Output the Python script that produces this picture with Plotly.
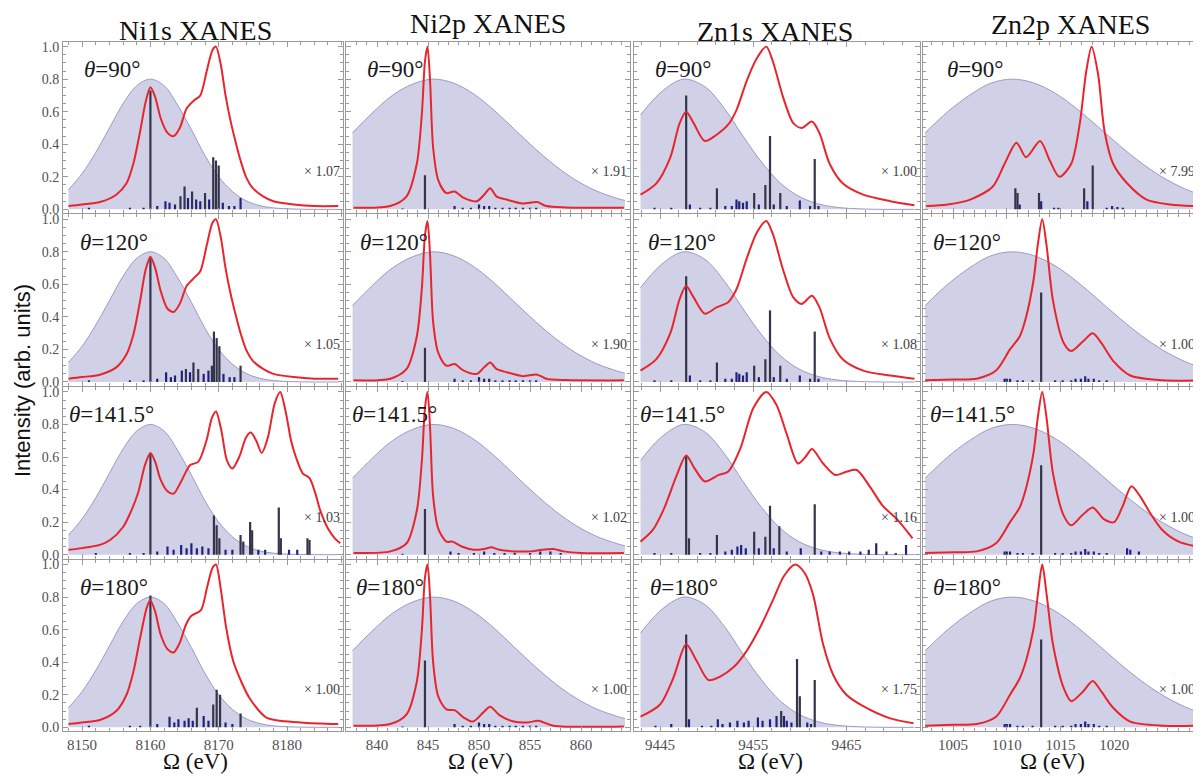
import plotly.graph_objects as go

# ---------------- data ----------------
column_titles = ["Ni1s XANES", "Ni2p XANES", "Zn1s XANES", "Zn2p XANES"]
angle_labels = ["90°", "120°", "141.5°", "180°"]
scale_factors = [["1.07", "1.91", "1.00", "7.99"],
                 ["1.05", "1.90", "1.08", "1.00"],
                 ["1.03", "1.02", "1.16", "1.00"],
                 ["1.00", "1.00", "1.75", "1.00"]]
x_ticks = [[8150, 8160, 8170, 8180], [840, 845, 850, 855, 860],
           [9445, 9455, 9465], [1005, 1010, 1015, 1020]]
y_ticks = [0.0, 0.2, 0.4, 0.6, 0.8, 1.0]

# pulse (Gaussian envelope) of each edge: (energy eV, intensity)
ni1s_gauss = [(8148, 0.12), (8150, 0.22), (8152, 0.35), (8154, 0.50), (8156, 0.65), (8158, 0.76),
              (8160, 0.80), (8162, 0.76), (8164, 0.64), (8166, 0.49), (8168, 0.33), (8170, 0.20),
              (8172, 0.11), (8174, 0.053), (8176, 0.023), (8178, 0.009), (8181, 0.002), (8184, 0.0),
              (8187.5, 0.0)]
ni2p_gauss = [(837.6, 0.47), (839.5, 0.59), (841.5, 0.70), (843.5, 0.77), (845.5, 0.80), (847.5, 0.776),
              (849.5, 0.708), (851.5, 0.608), (853.5, 0.49), (855.5, 0.373), (857.5, 0.267),
              (859.5, 0.179), (861.5, 0.113), (863.5, 0.068), (864.3, 0.054)]
zn1s_gauss = [(9442.9, 0.58), (9444.9, 0.71), (9446.9, 0.79), (9447.9, 0.80), (9449.9, 0.75),
              (9451.9, 0.62), (9453.9, 0.45), (9455.9, 0.29), (9457.9, 0.162), (9459.9, 0.08),
              (9461.9, 0.035), (9463.9, 0.013), (9466.9, 0.002), (9472.3, 0.0)]
zn2p_gauss = [(1002.4, 0.47), (1004.5, 0.60), (1006.5, 0.70), (1008.5, 0.775), (1010.5, 0.80),
              (1012.5, 0.777), (1014.5, 0.714), (1016.5, 0.619), (1018.5, 0.507), (1020.5, 0.392),
              (1022.5, 0.286), (1024.5, 0.197), (1026.5, 0.128), (1027.7, 0.097)]

# ---- Ni1s spectra (red) and sticks ----
ni1s_90_red = [(8148, 0.02), (8150, 0.03), (8152.6, 0.045), (8155, 0.09), (8156.5, 0.16), (8157.5, 0.28),
               (8158.5, 0.48), (8159.3, 0.66), (8160, 0.75), (8160.7, 0.69), (8161.5, 0.56), (8162.5, 0.47),
               (8163.4, 0.45), (8164.3, 0.50), (8165.3, 0.62), (8166.4, 0.67), (8167.3, 0.70), (8168.3, 0.86),
               (8169.1, 0.98), (8169.6, 1.0), (8170.3, 0.89), (8171, 0.70), (8171.7, 0.55), (8172.5, 0.41),
               (8173.2, 0.30), (8174, 0.2), (8175, 0.13), (8176.5, 0.08), (8178, 0.05), (8181, 0.03),
               (8184, 0.02), (8187.5, 0.02)]
ni1s_90_sticks = [(8151, 0.01), (8157, 0.01), (8159, 0.01), (8160, 0.73), (8161, 0.02), (8162.2, 0.05),
                  (8162.8, 0.04), (8163.6, 0.03), (8164.4, 0.08), (8165, 0.14), (8165.5, 0.07), (8166.1, 0.11),
                  (8166.7, 0.06), (8167.3, 0.05), (8168, 0.10), (8168.6, 0.06), (8169.2, 0.32), (8169.6, 0.30),
                  (8170, 0.27), (8170.6, 0.04), (8171.5, 0.02), (8172.3, 0.02), (8173.2, 0.07)]
ni1s_120_red = [(8148, 0.02), (8150, 0.03), (8152.6, 0.045), (8155, 0.09), (8156.5, 0.17), (8157.5, 0.29),
                (8158.5, 0.50), (8159.3, 0.69), (8160, 0.77), (8160.7, 0.70), (8161.5, 0.56), (8162.5, 0.45),
                (8163.4, 0.43), (8164.3, 0.48), (8165.3, 0.59), (8166.4, 0.64), (8167.3, 0.68), (8168.3, 0.85),
                (8169.1, 0.98), (8169.6, 1.0), (8170.3, 0.89), (8171, 0.70), (8171.7, 0.55), (8172.5, 0.41),
                (8173.2, 0.30), (8174, 0.2), (8175, 0.13), (8176.5, 0.08), (8178, 0.05), (8181, 0.03),
                (8184, 0.02), (8187.5, 0.02)]
ni1s_120_sticks = [(8151, 0.01), (8157, 0.01), (8159, 0.01), (8160, 0.76), (8161, 0.02), (8162.3, 0.06),
                   (8163, 0.03), (8163.6, 0.04), (8164.6, 0.07), (8165.2, 0.08), (8165.8, 0.06), (8166.3, 0.12),
                   (8167, 0.08), (8167.8, 0.05), (8168.5, 0.07), (8169, 0.10), (8169.3, 0.31), (8169.7, 0.27),
                   (8170.1, 0.22), (8170.7, 0.05), (8171.6, 0.03), (8172.3, 0.03), (8173.2, 0.10)]
ni1s_1415_red = [(8148, 0.03), (8150, 0.04), (8152.6, 0.06), (8154.1, 0.09), (8156, 0.17), (8157.2, 0.27),
                 (8158.2, 0.38), (8159.2, 0.55), (8160, 0.625), (8160.7, 0.57), (8161.5, 0.46), (8162.5, 0.39),
                 (8163.4, 0.375), (8164.5, 0.45), (8165.8, 0.55), (8167, 0.57), (8168.2, 0.70), (8169, 0.84),
                 (8169.6, 0.88), (8170.4, 0.76), (8171.2, 0.58), (8172, 0.53), (8173, 0.60), (8174, 0.72),
                 (8174.7, 0.75), (8175.5, 0.70), (8176.3, 0.625), (8177.2, 0.72), (8178.2, 0.93), (8179, 1.0),
                 (8179.8, 0.88), (8180.6, 0.70), (8181.3, 0.60), (8182.3, 0.50), (8183.3, 0.47), (8184.2, 0.37),
                 (8184.8, 0.28), (8186, 0.16), (8187, 0.10), (8187.8, 0.07)]
ni1s_1415_sticks = [(8152, 0.01), (8157, 0.01), (8159, 0.01), (8160, 0.62), (8161, 0.02), (8162.5, 0.05),
                    (8163.4, 0.03), (8164.5, 0.06), (8165.3, 0.04), (8166, 0.07), (8166.8, 0.04), (8167.6, 0.05),
                    (8168.5, 0.04), (8169.3, 0.24), (8169.7, 0.18), (8170.1, 0.10), (8171, 0.03), (8172, 0.03),
                    (8173.2, 0.12), (8173.6, 0.08), (8174.6, 0.20), (8174.9, 0.15), (8175.8, 0.03), (8176.8, 0.03),
                    (8178.8, 0.29), (8179.1, 0.10), (8180.3, 0.03), (8181.5, 0.03), (8183, 0.10), (8183.3, 0.09)]
ni1s_180_red = [(8148, 0.02), (8150, 0.03), (8152.6, 0.045), (8155, 0.10), (8156.5, 0.20), (8157.5, 0.34),
                (8158.5, 0.55), (8159.5, 0.74), (8160, 0.78), (8160.7, 0.71), (8161.5, 0.57), (8162.5, 0.48),
                (8163.4, 0.46), (8164.3, 0.52), (8165.2, 0.63), (8166, 0.685), (8167.4, 0.72), (8168.3, 0.86),
                (8169.1, 0.98), (8169.6, 1.0), (8170.3, 0.85), (8171.1, 0.61), (8172.1, 0.41), (8173.1, 0.30),
                (8174.5, 0.18), (8177, 0.06), (8182, 0.03), (8187.5, 0.02)]
ni1s_180_sticks = [(8151, 0.01), (8157, 0.01), (8158.5, 0.01), (8160, 0.81), (8161, 0.02), (8162.8, 0.065),
                   (8163.5, 0.03), (8164.1, 0.05), (8165, 0.04), (8165.6, 0.055), (8166.2, 0.04), (8166.8, 0.12),
                   (8167.8, 0.07), (8168.5, 0.04), (8169.2, 0.14), (8169.7, 0.23), (8170.2, 0.20), (8171, 0.03),
                   (8172, 0.02), (8173.2, 0.085)]

# ---- Ni2p ----
ni2p_90_red = [(837.7, 0.01), (841.3, 0.02), (842.9, 0.08), (843.9, 0.28), (844.4, 0.59), (844.7, 0.91),
               (844.95, 1.0), (845.2, 0.79), (845.5, 0.38), (846.0, 0.18), (846.8, 0.10), (847.6, 0.11),
               (848.5, 0.07), (849.8, 0.05), (850.5, 0.09), (851.1, 0.13), (851.7, 0.08), (852.7, 0.06),
               (854.3, 0.036), (855.7, 0.045), (856.6, 0.02), (858.5, 0.012), (864.2, 0.01)]
ni2p_90_sticks = [(842.5, 0.005), (844.7, 0.21), (847.6, 0.02), (848.4, 0.01), (849.2, 0.01), (850.0, 0.03),
                  (850.5, 0.02), (851.0, 0.02), (851.6, 0.01), (852.3, 0.01), (853.0, 0.01), (853.6, 0.01),
                  (854.3, 0.01), (855.0, 0.01), (855.6, 0.01)]
ni2p_120_red = [(837.7, 0.01), (841.3, 0.02), (842.9, 0.08), (843.9, 0.28), (844.4, 0.58), (844.7, 0.90),
                (844.95, 0.99), (845.2, 0.78), (845.5, 0.37), (846.0, 0.18), (846.8, 0.10), (847.6, 0.11),
                (848.5, 0.07), (849.8, 0.05), (850.5, 0.09), (851.1, 0.12), (851.7, 0.08), (852.7, 0.06),
                (854.3, 0.036), (855.7, 0.045), (856.6, 0.02), (858.5, 0.012), (864.2, 0.01)]
ni2p_120_sticks = [(842.5, 0.005), (844.7, 0.21), (847.6, 0.02), (848.4, 0.01), (849.2, 0.01), (850.0, 0.03),
                   (850.5, 0.02), (851.0, 0.02), (851.6, 0.01), (852.3, 0.01), (853.0, 0.01), (853.6, 0.01),
                   (854.3, 0.01), (855.0, 0.01), (855.6, 0.01)]
ni2p_1415_red = [(837.7, 0.01), (841.3, 0.02), (842.9, 0.07), (843.9, 0.27), (844.4, 0.58), (844.7, 0.90),
                 (844.95, 1.0), (845.2, 0.78), (845.5, 0.36), (846.0, 0.16), (846.8, 0.08), (847.4, 0.08),
                 (848.3, 0.05), (849.5, 0.03), (850.5, 0.035), (851.2, 0.045), (852, 0.03), (853.5, 0.02),
                 (855, 0.02), (856.2, 0.03), (857.3, 0.035), (858.3, 0.02), (860, 0.01), (864.2, 0.01)]
ni2p_1415_sticks = [(842.5, 0.005), (844.7, 0.28), (847.2, 0.02), (848.0, 0.01), (849.5, 0.01), (850.5, 0.02),
                    (851.5, 0.01), (852.5, 0.01), (853.5, 0.01), (855.0, 0.01), (856.0, 0.02), (857.0, 0.02),
                    (858.0, 0.01)]
ni2p_180_red = [(837.7, 0.01), (841.3, 0.02), (842.9, 0.08), (843.9, 0.28), (844.4, 0.60), (844.7, 0.92),
                (844.95, 1.0), (845.2, 0.80), (845.5, 0.40), (846.0, 0.19), (846.8, 0.11), (847.6, 0.105),
                (848.5, 0.06), (849.4, 0.035), (850.4, 0.09), (851.1, 0.126), (852, 0.075), (853.4, 0.035),
                (854.8, 0.03), (855.8, 0.04), (857.3, 0.01), (864.2, 0.005)]
ni2p_180_sticks = [(842.5, 0.005), (844.7, 0.41), (847.6, 0.02), (848.4, 0.01), (849.2, 0.01), (850.0, 0.03),
                   (850.5, 0.02), (851.0, 0.02), (851.6, 0.01), (852.3, 0.01), (853.0, 0.01), (853.6, 0.01),
                   (854.3, 0.01), (855.0, 0.01), (855.6, 0.01)]

# ---- Zn1s ----
zn1s_90_red = [(9442.9, 0.09), (9444.6, 0.16), (9446.1, 0.32), (9447.1, 0.53), (9447.8, 0.60), (9448.6, 0.53),
               (9449.8, 0.42), (9451.1, 0.46), (9452.3, 0.52), (9453.2, 0.61), (9454.3, 0.79), (9455.4, 0.93),
               (9456.4, 1.0), (9457.1, 0.91), (9458.2, 0.69), (9459.3, 0.53), (9460.2, 0.50), (9461.3, 0.54),
               (9462.1, 0.47), (9463.2, 0.28), (9464.6, 0.16), (9466.8, 0.09), (9469.7, 0.05), (9472.3, 0.025)]
zn1s_90_sticks = [(9444.4, 0.01), (9446.2, 0.01), (9447.8, 0.70), (9448.2, 0.03), (9449.3, 0.01), (9450.4, 0.01),
                  (9451.1, 0.13), (9452, 0.02), (9452.7, 0.02), (9453.2, 0.06), (9453.5, 0.05), (9453.9, 0.04),
                  (9454.3, 0.05), (9455.1, 0.10), (9455.6, 0.03), (9456.3, 0.15), (9456.8, 0.45), (9457.2, 0.03),
                  (9457.9, 0.10), (9458.6, 0.02), (9460.0, 0.055), (9461.1, 0.02), (9461.6, 0.31), (9462.0, 0.02)]
zn1s_120_red = [(9442.9, 0.07), (9444.6, 0.14), (9446.1, 0.30), (9447.1, 0.51), (9447.8, 0.59), (9448.6, 0.52),
                (9449.8, 0.42), (9451.1, 0.46), (9452.3, 0.49), (9453.2, 0.57), (9454.3, 0.76), (9455.4, 0.92),
                (9456.4, 0.99), (9457.1, 0.91), (9458.2, 0.69), (9459.3, 0.52), (9460.2, 0.48), (9461.3, 0.53),
                (9462.1, 0.46), (9463.2, 0.27), (9464.6, 0.14), (9466.8, 0.07), (9469.7, 0.04), (9472.3, 0.02)]
zn1s_120_sticks = [(9444.4, 0.01), (9446.2, 0.01), (9447.8, 0.65), (9448.2, 0.04), (9449.3, 0.01), (9450.4, 0.01),
                   (9451.1, 0.12), (9452, 0.02), (9452.7, 0.02), (9453.2, 0.06), (9453.5, 0.05), (9453.9, 0.04),
                   (9454.3, 0.06), (9455.1, 0.10), (9455.6, 0.03), (9456.3, 0.14), (9456.8, 0.44), (9457.2, 0.03),
                   (9457.9, 0.10), (9458.6, 0.02), (9460.0, 0.04), (9461.1, 0.02), (9461.6, 0.31), (9462.0, 0.02)]
zn1s_1415_red = [(9442.9, 0.08), (9444.2, 0.15), (9445.4, 0.28), (9446.8, 0.49), (9447.8, 0.61), (9448.7, 0.53),
                 (9449.8, 0.45), (9451.3, 0.49), (9452.3, 0.51), (9453.6, 0.65), (9455, 0.90), (9456.4, 1.0),
                 (9457.5, 0.92), (9458.6, 0.74), (9459.8, 0.56), (9460.6, 0.60), (9461.3, 0.65), (9462.5, 0.56),
                 (9463.8, 0.49), (9465, 0.51), (9466.1, 0.52), (9467.5, 0.42), (9468.9, 0.30), (9470.4, 0.22),
                 (9472.1, 0.10)]
zn1s_1415_sticks = [(9444.4, 0.01), (9446.2, 0.01), (9447.8, 0.61), (9448.1, 0.10), (9449.3, 0.01), (9450.4, 0.01),
                    (9451.1, 0.12), (9452, 0.02), (9452.7, 0.03), (9453.3, 0.05), (9453.7, 0.06), (9454.2, 0.04),
                    (9455.1, 0.14), (9455.6, 0.04), (9456.3, 0.11), (9456.8, 0.30), (9457.2, 0.04), (9457.8, 0.175),
                    (9458.6, 0.02), (9460.1, 0.04), (9461.6, 0.31), (9462.3, 0.02), (9463.2, 0.02), (9464.3, 0.02),
                    (9465.3, 0.02), (9466.5, 0.02), (9467.4, 0.03), (9468.2, 0.07), (9469.3, 0.02), (9470.3, 0.01),
                    (9471.4, 0.06)]
zn1s_180_red = [(9442.9, 0.065), (9445, 0.14), (9446.4, 0.30), (9447.8, 0.51), (9448.9, 0.41), (9450.2, 0.29),
                (9451.4, 0.31), (9452.9, 0.37), (9454.3, 0.47), (9455.7, 0.61), (9457.1, 0.78), (9458.3, 0.93),
                (9459.5, 1.0), (9460.5, 0.95), (9461.4, 0.82), (9462.5, 0.51), (9463.6, 0.32), (9465, 0.20),
                (9466.8, 0.13), (9469.7, 0.055), (9472.2, 0.025)]
zn1s_180_sticks = [(9444.5, 0.01), (9446.2, 0.02), (9447.8, 0.57), (9448.1, 0.05), (9449.5, 0.01), (9450.5, 0.01),
                   (9451.2, 0.05), (9451.7, 0.02), (9452.5, 0.03), (9453.3, 0.04), (9454, 0.03), (9454.5, 0.04),
                   (9455.5, 0.06), (9456, 0.04), (9456.8, 0.05), (9457.5, 0.07), (9458, 0.10), (9458.3, 0.07),
                   (9458.6, 0.04), (9459.1, 0.03), (9459.7, 0.42), (9460, 0.19), (9460.8, 0.03), (9461.2, 0.02),
                   (9461.6, 0.29)]

# ---- Zn2p ----
zn2p_90_red = [(1002.5, 0.02), (1004.5, 0.03), (1006.6, 0.06), (1008.7, 0.14), (1009.8, 0.28), (1010.9, 0.41),
               (1011.8, 0.32), (1013.1, 0.42), (1014.0, 0.30), (1014.9, 0.20), (1016.0, 0.28), (1016.8, 0.53),
               (1017.4, 0.85), (1017.9, 1.0), (1018.5, 0.83), (1019.1, 0.48), (1019.9, 0.28), (1021.2, 0.16),
               (1023, 0.06), (1025.2, 0.03), (1027.7, 0.02)]
zn2p_90_sticks = [(1010.8, 0.13), (1011.0, 0.10), (1011.2, 0.03), (1013.0, 0.10), (1013.2, 0.05), (1014.4, 0.01),
                  (1014.8, 0.01), (1017.2, 0.13), (1017.5, 0.05), (1018.0, 0.27), (1019.3, 0.01), (1019.8, 0.02),
                  (1020.3, 0.015), (1020.8, 0.01)]
zn2p_120_red = [(1002.4, 0.01), (1005, 0.015), (1007.2, 0.02), (1009, 0.07), (1010.3, 0.20), (1011.2, 0.28),
                (1011.8, 0.40), (1012.5, 0.63), (1012.9, 0.85), (1013.3, 1.0), (1013.7, 0.84), (1014.3, 0.50),
                (1015.3, 0.24), (1016.0, 0.19), (1017.1, 0.25), (1018.0, 0.30), (1018.8, 0.24), (1019.9, 0.13),
                (1021.5, 0.04), (1024.6, 0.01), (1027.8, 0.01)]
zn2p_120_sticks = [(1009.8, 0.02), (1010.0, 0.02), (1010.3, 0.02), (1011.0, 0.01), (1011.5, 0.01), (1012.4, 0.01),
                   (1013.2, 0.55), (1014.5, 0.01), (1015.2, 0.01), (1016, 0.01), (1016.4, 0.02), (1016.9, 0.02),
                   (1017.3, 0.035), (1017.6, 0.02), (1018.1, 0.02), (1018.6, 0.01), (1019.3, 0.01)]
zn2p_1415_red = [(1002.4, 0.01), (1005, 0.015), (1007.2, 0.02), (1009, 0.07), (1010.3, 0.20), (1011.2, 0.29),
                 (1011.8, 0.41), (1012.5, 0.63), (1012.9, 0.85), (1013.3, 1.0), (1013.7, 0.84), (1014.3, 0.50),
                 (1015.3, 0.24), (1016.0, 0.18), (1017.0, 0.24), (1018.0, 0.29), (1019.0, 0.22), (1020.0, 0.20),
                 (1020.8, 0.30), (1021.6, 0.42), (1022.4, 0.36), (1023.3, 0.26), (1024.5, 0.15), (1026, 0.08),
                 (1027.7, 0.05)]
zn2p_1415_sticks = [(1009.8, 0.02), (1010.0, 0.02), (1010.3, 0.02), (1011.0, 0.01), (1011.5, 0.01), (1012.4, 0.01),
                    (1013.2, 0.55), (1014.5, 0.01), (1015.2, 0.01), (1016, 0.01), (1016.4, 0.02), (1016.9, 0.02),
                    (1017.3, 0.035), (1017.6, 0.02), (1018.1, 0.02), (1018.6, 0.01), (1019.3, 0.01),
                    (1021.2, 0.04), (1021.5, 0.03), (1022.3, 0.02)]
zn2p_180_red = [(1002.4, 0.01), (1005, 0.015), (1007.2, 0.02), (1009, 0.065), (1010.3, 0.20), (1011.2, 0.30),
                (1011.8, 0.41), (1012.5, 0.61), (1012.9, 0.82), (1013.3, 1.0), (1013.7, 0.82), (1014.3, 0.51),
                (1015.3, 0.24), (1016.0, 0.16), (1017.1, 0.22), (1018.0, 0.285), (1018.8, 0.22), (1019.9, 0.12),
                (1021.5, 0.035), (1024.6, 0.01), (1027.8, 0.01)]
zn2p_180_sticks = [(1009.8, 0.02), (1010.0, 0.02), (1010.3, 0.02), (1011.0, 0.01), (1011.5, 0.01), (1012.4, 0.01),
                   (1013.2, 0.54), (1014.5, 0.01), (1015.2, 0.01), (1016, 0.01), (1016.4, 0.02), (1016.9, 0.02),
                   (1017.3, 0.035), (1017.6, 0.02), (1018.1, 0.02), (1018.6, 0.01), (1019.3, 0.01)]

# ---------------- assembly ----------------
gauss = [ni1s_gauss, ni2p_gauss, zn1s_gauss, zn2p_gauss]
red = [[ni1s_90_red, ni2p_90_red, zn1s_90_red, zn2p_90_red],
       [ni1s_120_red, ni2p_120_red, zn1s_120_red, zn2p_120_red],
       [ni1s_1415_red, ni2p_1415_red, zn1s_1415_red, zn2p_1415_red],
       [ni1s_180_red, ni2p_180_red, zn1s_180_red, zn2p_180_red]]
sticks = [[ni1s_90_sticks, ni2p_90_sticks, zn1s_90_sticks, zn2p_90_sticks],
          [ni1s_120_sticks, ni2p_120_sticks, zn1s_120_sticks, zn2p_120_sticks],
          [ni1s_1415_sticks, ni2p_1415_sticks, zn1s_1415_sticks, zn2p_1415_sticks],
          [ni1s_180_sticks, ni2p_180_sticks, zn1s_180_sticks, zn2p_180_sticks]]

# the page body has an 8px margin: lay out in screen pixels, then shift
OFF = 8
W, H = 1201 - OFF, 780 - OFF


def px_x(px):
    return (px - OFF) / W


def px_y(py):
    return 1 - (py - OFF) / H


col_px = [(63, 343), (346, 630), (634, 920), (923, 1198)]
row_top = [40, 214, 388, 562]
row_h = 173
x_ranges = [[8147.2, 8188.2], [836.96, 864.8], [9442.2, 9472.9], [1002.2, 1027.8]]
minor_dx = [2, 1, 2, 1]
y_range = [-0.025, 1.03]

FRAME = "#9a9a9a"
GFILL = "#d0d0e7"
GLINE = "#9a9ac8"
RED = "#e8252d"
DARK = "#34344a"
NAVY = "#22227e"
SERIF = "Liberation Serif, Times New Roman, serif"


def split(pts):
    return [p[0] for p in pts], [p[1] for p in pts]


def stick_lines(pts, tall):
    xs, ys = [], []
    for x, h in pts:
        if (h >= 0.08) == tall:
            xs += [x, x, None]
            ys += [0, h, None]
    return xs, ys


fig = go.Figure()
annotations = []
layout_axes = {}

for r in range(4):
    for c in range(4):
        idx = r * 4 + c + 1
        sfx = "" if idx == 1 else str(idx)
        xr, yr = "x" + sfx, "y" + sfx

        gx, gy = split(gauss[c])
        fig.add_trace(go.Scatter(x=gx, y=gy, xaxis=xr, yaxis=yr, mode="lines", fill="tozeroy",
                                 fillcolor=GFILL, line=dict(color=GLINE, width=1, shape="spline", smoothing=1),
                                 hoverinfo="skip", showlegend=False))
        sx, sy = stick_lines(sticks[r][c], False)
        fig.add_trace(go.Scatter(x=sx, y=sy, xaxis=xr, yaxis=yr, mode="lines",
                                 line=dict(color=NAVY, width=2.2), hoverinfo="skip", showlegend=False))
        sx, sy = stick_lines(sticks[r][c], True)
        fig.add_trace(go.Scatter(x=sx, y=sy, xaxis=xr, yaxis=yr, mode="lines",
                                 line=dict(color=DARK, width=2.2), hoverinfo="skip", showlegend=False))
        rx, ry = split(red[r][c])
        fig.add_trace(go.Scatter(x=rx, y=ry, xaxis=xr, yaxis=yr, mode="lines",
                                 line=dict(color=RED, width=2, shape="spline", smoothing=0.8),
                                 hoverinfo="skip", showlegend=False))

        l, rt = col_px[c]
        top = row_top[r]
        layout_axes["xaxis" + sfx] = dict(
            domain=[px_x(l), px_x(rt)], range=x_ranges[c], anchor=yr, showgrid=False, zeroline=False,
            showline=True, linecolor=FRAME, linewidth=1, mirror="allticks", ticks="inside", ticklen=5,
            tickcolor=FRAME, tickmode="array", tickvals=x_ticks[c], showticklabels=(r == 3),
            tickfont=dict(family=SERIF, size=15, color="#505050"),
            minor=dict(ticks="inside", ticklen=3, tickcolor=FRAME, dtick=minor_dx[c], tick0=x_ticks[c][0]))
        layout_axes["yaxis" + sfx] = dict(
            domain=[px_y(top + row_h), px_y(top)], range=y_range, anchor=xr, showgrid=False,
            zeroline=False, showline=True, linecolor=FRAME, linewidth=1, mirror="allticks", ticks="inside",
            ticklen=5, tickcolor=FRAME, tickmode="array", tickvals=y_ticks,
            ticktext=[f"{v:.1f}" for v in y_ticks], showticklabels=(c == 0),
            tickfont=dict(family=SERIF, size=14, color="#505050"),
            minor=dict(ticks="inside", ticklen=3, tickcolor=FRAME, dtick=0.05, tick0=0))

        theta_off = [[19, 19, 19, 22], [15, 12, 12, 8], [4, 4, 4, 5], [15, 8, 14, 8]][r][c]
        annotations.append(dict(
            text="<i>θ</i>=" + angle_labels[r], xref=xr + " domain", yref=yr + " domain",
            x=theta_off / (rt - l), y=1 - 28 / row_h, xanchor="left", yanchor="middle", showarrow=False,
            font=dict(family=SERIF, size=23, color="#1a1a1a")))
        annotations.append(dict(
            text="× " + scale_factors[r][c], xref=xr + " domain", yref=yr,
            x=0.997, y=0.23, xanchor="right", yanchor="middle", showarrow=False,
            font=dict(family=SERIF, size=14, color="#404040")))

title_pos = [(195, 29), (488, 22), (775, 30), (1070, 23)]
for t, (px, py) in zip(column_titles, title_pos):
    annotations.append(dict(text=t, xref="paper", yref="paper", x=px_x(px), y=px_y(py),
                            xanchor="center", yanchor="middle", showarrow=False,
                            font=dict(family=SERIF, size=28, color="#111")))

for px in [195, 480, 770, 1052]:
    annotations.append(dict(text="Ω (eV)", xref="paper", yref="paper", x=px_x(px), y=px_y(765),
                            xanchor="center", yanchor="middle", showarrow=False,
                            font=dict(family=SERIF, size=23, color="#111")))

annotations.append(dict(text="Intensity (arb. units)", xref="paper", yref="paper", x=px_x(22), y=px_y(382),
                        xanchor="center", yanchor="middle", textangle=-90, showarrow=False,
                        font=dict(family="Liberation Sans, Arial, sans-serif", size=22, color="#111")))

fig.update_layout(width=W, height=H, margin=dict(l=0, r=0, t=0, b=0), plot_bgcolor="white",
                  paper_bgcolor="white", showlegend=False, annotations=annotations, **layout_axes)

fig.write_html("out.html")
